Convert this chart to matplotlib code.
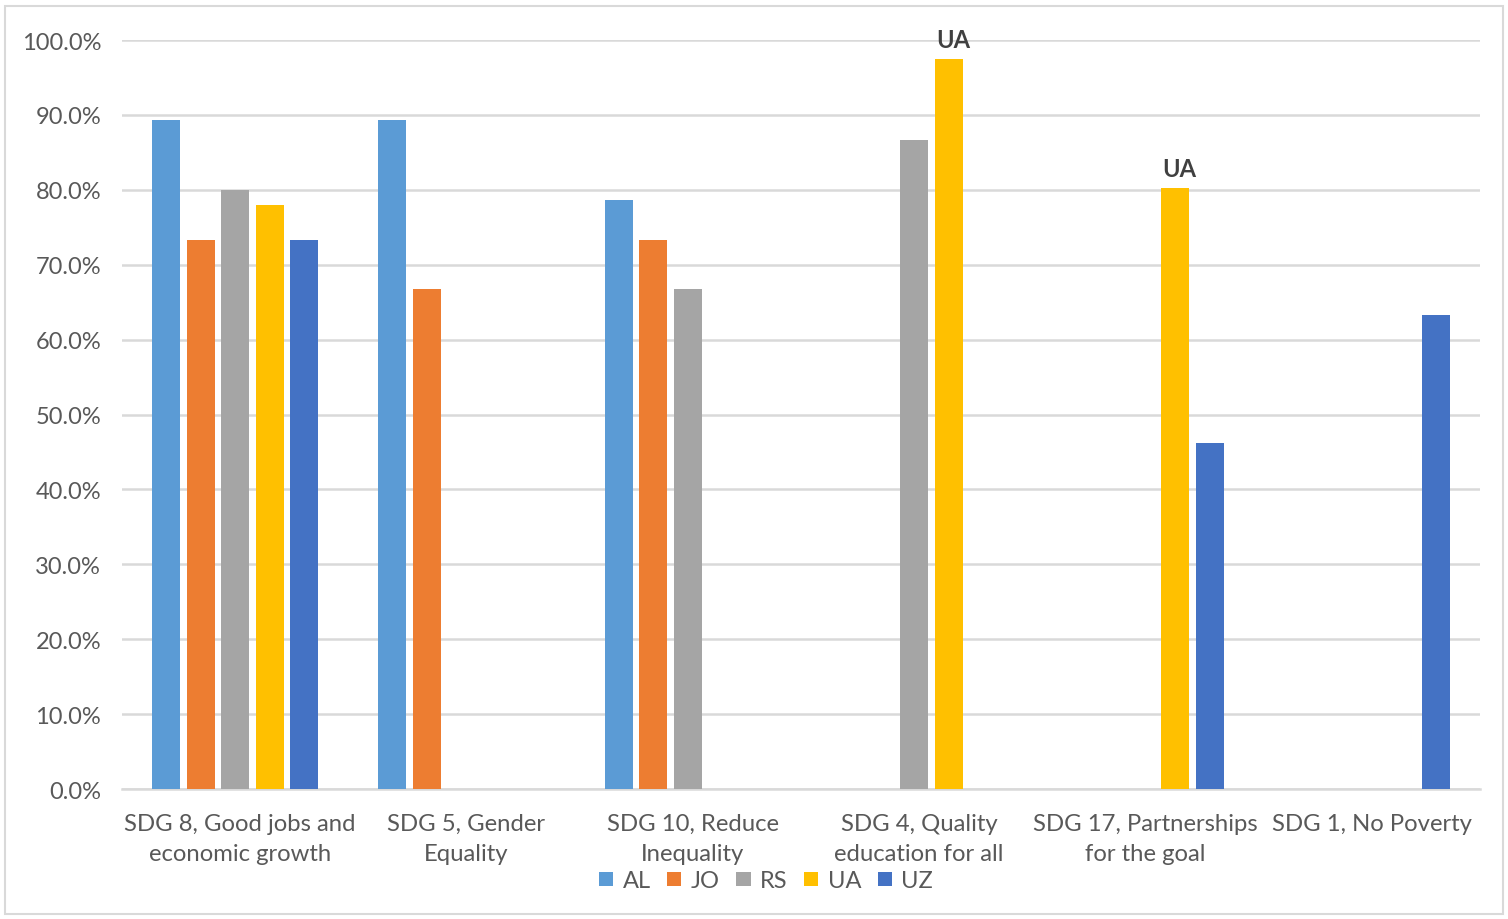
import numpy as np
import matplotlib.pyplot as plt
import matplotlib.transforms as mtransforms
from matplotlib.patches import Rectangle
from matplotlib.ticker import FuncFormatter

plt.rcParams['font.family'] = ['Lato', 'DejaVu Sans']

categories = ["SDG 8, Good jobs and\neconomic growth", "SDG 5, Gender\nEquality",
              "SDG 10, Reduce\nInequality", "SDG 4, Quality\neducation for all",
              "SDG 17, Partnerships\nfor the goal", "SDG 1, No Poverty"]
series = ["AL", "JO", "RS", "UA", "UZ"]
nan = np.nan
al = [89.3, 89.3, 78.7, nan, nan, nan]
jo = [73.3, 66.7, 73.3, nan, nan, nan]
rs = [80.0, nan, 66.7, 86.7, nan, nan]
ua = [78.0, nan, nan, 97.5, 80.3, nan]
uz = [73.3, nan, nan, nan, 46.2, 63.3]
values = [al, jo, rs, ua, uz]
colors = ["#5B9BD5", "#ED7D31", "#A5A5A5", "#FFC000", "#4472C4"]
# bars flagged with a bold label
flagged = [(3, 3), (4, 3)]  # (category index, series index)

fig = plt.figure(figsize=(15.08, 9.2), dpi=100)
ax = fig.add_axes([0.0809, 0.1413, 0.9005, 0.8141])

x = np.arange(len(categories))
step = 0.1527
width = 0.124
for i, (name, vals, c) in enumerate(zip(series, values, colors)):
    ax.bar(x + (i - 2) * step, vals, width=width, color=c, label=name, zorder=3)

for ci, si in flagged:
    ax.text(x[ci] + (si - 2) * step + 0.02, values[si][ci] + 1.0, series[si],
            ha='center', va='bottom', fontsize=17, fontweight='bold', color='#404040')

ax.set_xlim(-0.5, len(categories) - 0.5)
ax.set_ylim(0, 100)
ax.set_yticks(np.arange(0, 101, 10))
ax.yaxis.set_major_formatter(FuncFormatter(lambda v, p: f"{v:.1f}%"))
ax.set_xticks(x)
ax.set_xticklabels(categories, fontsize=17.2, color='#595959', linespacing=1.55)
ax.tick_params(axis='y', labelsize=17, labelcolor='#595959', length=0, pad=15)
ax.tick_params(axis='x', length=0, pad=17)
# Excel nudges the category labels a little to the right
shift = mtransforms.ScaledTranslation(5 / 100, 0, fig.dpi_scale_trans)
for lbl in ax.get_xticklabels():
    lbl.set_transform(lbl.get_transform() + shift)
ax.grid(axis='y', color='#d9d9d9', linewidth=1.8, zorder=0)
for s in ['top', 'right', 'left']:
    ax.spines[s].set_visible(False)
ax.spines['bottom'].set_color('#d9d9d9')
ax.spines['bottom'].set_linewidth(1.8)

leg = fig.legend(loc='center', bbox_to_anchor=(0.508, 0.0415), ncol=5, frameon=False,
                 fontsize=17, handlelength=0.6, handleheight=0.6, handletextpad=0.4,
                 columnspacing=0.7, labelcolor='#595959')

fig.patches.append(Rectangle((0.003, 0.005), 0.994, 0.987, transform=fig.transFigure,
                             fill=False, edgecolor='#d9d9d9', linewidth=1.5))

fig.savefig("out.png", dpi=100)
